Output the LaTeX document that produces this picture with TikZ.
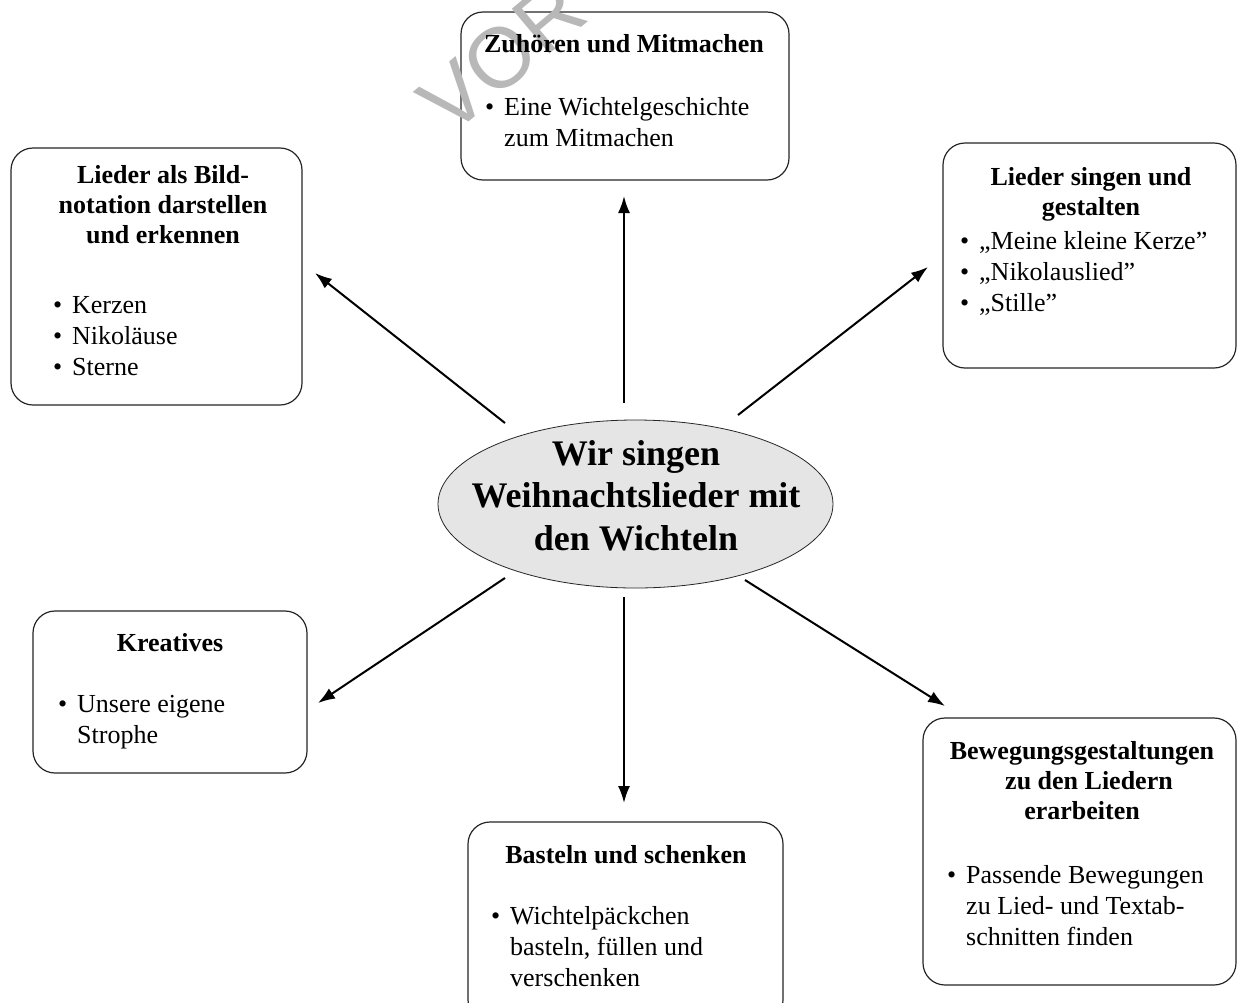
\documentclass[tikz,border=0pt]{standalone}
\usepackage{fontspec}
\setmainfont{Liberation Serif}
\newfontfamily\wmfont{Liberation Sans}
\usetikzlibrary{arrows.meta,shapes.geometric}
\newcommand\bul{\makebox[19pt][l]{\textbullet}}
\newcommand\ind{\hspace*{19pt}}
\begin{document}
\begin{tikzpicture}[x=1pt,y=-1pt,
  box/.style={draw=black!85,line width=1.2pt,rounded corners=22pt,inner sep=0pt,fill=white},
  ttl/.style={font=\fontsize{26}{30}\selectfont\bfseries,align=center,inner sep=0pt,anchor=base},
  txt/.style={font=\fontsize{26}{31}\selectfont,align=left,inner sep=0pt,anchor=base west},
  arr/.style={line width=2pt,-{Latex[length=17pt,width=12pt]}},
]
\useasboundingbox (0,0) rectangle (1237,1002);
\fill[white] (0,0) rectangle (1237,1002);

% boxes
\node[box,minimum width=328pt,minimum height=168pt] (b1) at (625,96) {};
\node[box,minimum width=291pt,minimum height=257pt] (b2) at (156.5,276.5) {};
\node[box,minimum width=293pt,minimum height=225pt] (b3) at (1089.5,255.5) {};
\node[box,minimum width=274pt,minimum height=162pt] (b4) at (170,692) {};
\node[box,minimum width=315pt,minimum height=200pt] (b5) at (625.5,922) {};
\node[box,minimum width=313pt,minimum height=267pt] (b6) at (1079.5,851.5) {};

% centre
\node[ellipse,draw=black!85,line width=0.8pt,fill=black!10,minimum width=395pt,minimum height=168pt,inner sep=0pt] (c) at (635.5,504) {};
\node[font=\fontsize{36}{42.5}\selectfont\bfseries,align=center,inner sep=0pt,anchor=base] (ct) at (636,550) {Wir singen\\Weihnachtslieder mit\\den Wichteln};

% watermark
\begin{scope}
\clip (0,0) rectangle (1237,1002);
\node[font=\wmfont\fontsize{85}{85}\selectfont,text=black!28,rotate=40,anchor=base west,inner sep=0pt] (wm) at (450,138) {VOR};
\end{scope}

% arrow end points
\coordinate (s1) at (624,403); \coordinate (e1) at (624,196);
\coordinate (s2) at (505,423); \coordinate (e2) at (315,273);
\coordinate (s3) at (738,415); \coordinate (e3) at (928,267);
\coordinate (s4) at (505,578); \coordinate (e4) at (318,703);
\coordinate (s5) at (624,597); \coordinate (e5) at (624,803);
\coordinate (s6) at (745,580); \coordinate (e6) at (945,706);
\foreach \i in {1,...,6} \draw[arr] (s\i) -- (e\i);

% texts
\node[ttl] (t1) at (624,52) {Zuhören und Mitmachen};
\node[txt] (l1) at (485,146) {\bul Eine Wichtelgeschichte\\\ind zum Mitmachen};

\node[ttl] (t2) at (163,243) {Lieder als Bild-\\notation darstellen\\und erkennen};
\node[txt] (l2) at (53,375) {\bul Kerzen\\\bul Nikoläuse\\\bul Sterne};

\node[ttl] (t3) at (1091,215) {Lieder singen und\\gestalten};
\node[txt] (l3) at (960,311) {\bul „Meine kleine Kerze”\\\bul „Nikolauslied”\\\bul „Stille”};

\node[ttl] (t4) at (170,651) {Kreatives};
\node[txt] (l4) at (58,743) {\bul Unsere eigene\\\ind Strophe};

\node[ttl] (t5) at (626,863) {Basteln und schenken};
\node[txt] (l5) at (491,986) {\bul Wichtelpäckchen\\\ind basteln, füllen und\\\ind verschenken};

\node[ttl] (t6) at (1082,819) {Bewegungsgestaltungen\\\hspace*{14pt}zu den Liedern\\erarbeiten};
\node[txt] (l6) at (947,945) {\bul Passende Bewegungen\\\ind zu Lied- und Textab-\\\ind schnitten finden};
\end{tikzpicture}
\end{document}
